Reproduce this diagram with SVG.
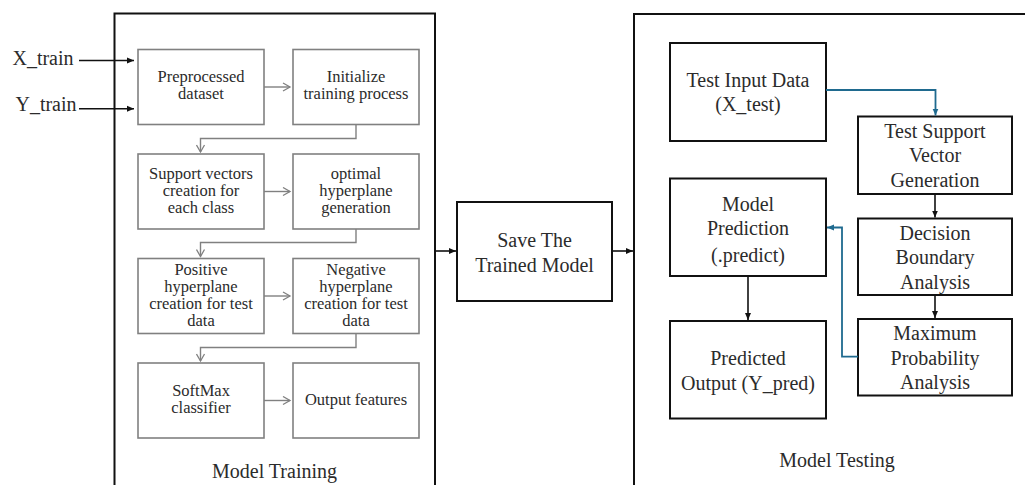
<svg xmlns="http://www.w3.org/2000/svg" width="1025" height="485" viewBox="0 0 1025 485">
<style>
text{font-family:"Liberation Serif","Times New Roman",serif;fill:#2b2b2b;text-anchor:middle}
.tr{font-size:16.5px}
.te{font-size:20px}
.lbl{font-size:20px}
.frame{fill:none;stroke:#111;stroke-width:2}
.ibox{fill:#fff;stroke:#808080;stroke-width:1.6}
.tbox{fill:#fff;stroke:#111;stroke-width:2}
.gc{fill:none;stroke:#808080;stroke-width:1.4}
.bc{fill:none;stroke:#111;stroke-width:1.6}
.blue{fill:none;stroke:#1f6a8f;stroke-width:1.8}
</style>
<defs>
<marker id="ga" markerWidth="10" markerHeight="10" refX="8" refY="5" orient="auto" markerUnits="userSpaceOnUse">
<path d="M1,1 L8,5 L1,9" fill="none" stroke="#808080" stroke-width="1.3"/>
</marker>
<marker id="ba" markerWidth="8" markerHeight="8" refX="7" refY="4" orient="auto" markerUnits="userSpaceOnUse">
<path d="M0,1 L7,4 L0,7 Z" fill="#111"/>
</marker>
<marker id="bla" markerWidth="8" markerHeight="8" refX="7" refY="4" orient="auto" markerUnits="userSpaceOnUse">
<path d="M0,1 L7,4 L0,7 Z" fill="#1f6a8f"/>
</marker>
</defs>
<rect width="1025" height="485" fill="#fff"/>

<g id="training-frame">
<path class="frame" d="M114.5,490 V13.5 H435 V490"/>
<text class="lbl" x="274.5" y="478">Model Training</text>
</g>
<g id="testing-frame">
<path class="frame" d="M634,490 V14 H1040 V490"/>
<text class="lbl" x="837" y="467">Model Testing</text>
</g>

<g id="inputs">
<text class="lbl" x="43" y="65">X_train</text>
<text class="lbl" x="46" y="111">Y_train</text>
</g>

<g id="n-preprocessed"><rect class="ibox" x="138" y="49.5" width="126" height="75"/><text class="tr"><tspan x="201" y="82">Preprocessed</tspan><tspan x="201" y="99">dataset</tspan></text></g>
<g id="n-initialize"><rect class="ibox" x="293" y="49.5" width="126" height="75"/><text class="tr"><tspan x="356" y="82">Initialize</tspan><tspan x="356" y="99">training process</tspan></text></g>
<g id="n-support"><rect class="ibox" x="138" y="154" width="126" height="75"/><text class="tr"><tspan x="201" y="178.5">Support vectors</tspan><tspan x="201" y="195.7">creation for</tspan><tspan x="201" y="212.9">each class</tspan></text></g>
<g id="n-optimal"><rect class="ibox" x="293" y="154" width="126" height="75"/><text class="tr"><tspan x="356" y="178.5">optimal</tspan><tspan x="356" y="195.7">hyperplane</tspan><tspan x="356" y="212.9">generation</tspan></text></g>
<g id="n-positive"><rect class="ibox" x="138" y="258.5" width="126" height="75"/><text class="tr"><tspan x="201" y="274.5">Positive</tspan><tspan x="201" y="291.5">hyperplane</tspan><tspan x="201" y="308.5">creation for test</tspan><tspan x="201" y="325.5">data</tspan></text></g>
<g id="n-negative"><rect class="ibox" x="293" y="258.5" width="126" height="75"/><text class="tr"><tspan x="356" y="274.5">Negative</tspan><tspan x="356" y="291.5">hyperplane</tspan><tspan x="356" y="308.5">creation for test</tspan><tspan x="356" y="325.5">data</tspan></text></g>
<g id="n-softmax"><rect class="ibox" x="138" y="363" width="126" height="75"/><text class="tr"><tspan x="201" y="396">SoftMax</tspan><tspan x="201" y="413">classifier</tspan></text></g>
<g id="n-output"><rect class="ibox" x="293" y="363" width="126" height="75"/><text class="tr" x="356" y="405">Output features</text></g>

<g id="n-save"><rect class="tbox" x="457" y="202" width="155" height="99"/><text class="te"><tspan x="534.5" y="247">Save The</tspan><tspan x="534.5" y="271.5">Trained Model</tspan></text></g>

<g id="n-testinput"><rect class="tbox" x="670" y="43" width="156" height="98"/><text class="te"><tspan x="748" y="87">Test Input Data</tspan><tspan x="748" y="111">(X_test)</tspan></text></g>
<g id="n-testsupport"><rect class="tbox" x="858" y="116.5" width="154" height="77.5"/><text class="te"><tspan x="935" y="137.5">Test Support</tspan><tspan x="935" y="162">Vector</tspan><tspan x="935" y="186.5">Generation</tspan></text></g>
<g id="n-prediction"><rect class="tbox" x="670" y="178.5" width="156" height="97.5"/><text class="te"><tspan x="748" y="210.5">Model</tspan><tspan x="748" y="235">Prediction</tspan><tspan x="748" y="261.5">(.predict)</tspan></text></g>
<g id="n-decision"><rect class="tbox" x="858" y="218.5" width="154" height="76.5"/><text class="te"><tspan x="935" y="239.5">Decision</tspan><tspan x="935" y="264">Boundary</tspan><tspan x="935" y="288.5">Analysis</tspan></text></g>
<g id="n-maximum"><rect class="tbox" x="858" y="319" width="154" height="76.5"/><text class="te"><tspan x="935" y="340">Maximum</tspan><tspan x="935" y="364.5">Probability</tspan><tspan x="935" y="389">Analysis</tspan></text></g>
<g id="n-predicted"><rect class="tbox" x="670" y="321" width="156" height="97.5"/><text class="te"><tspan x="748" y="365">Predicted</tspan><tspan x="748" y="390">Output (Y_pred)</tspan></text></g>

<g id="connectors">
<path class="bc" d="M79,60.5 H134" marker-end="url(#ba)"/>
<path class="bc" d="M79,108.7 H134" marker-end="url(#ba)"/>
<path class="gc" d="M264,87 H290" marker-end="url(#ga)"/>
<path class="gc" d="M356,124.5 V138.5 H200.5 V152" marker-end="url(#ga)"/>
<path class="gc" d="M264,191.5 H290" marker-end="url(#ga)"/>
<path class="gc" d="M356,229 V242.5 H200.5 V256.5" marker-end="url(#ga)"/>
<path class="gc" d="M264,296 H290" marker-end="url(#ga)"/>
<path class="gc" d="M356,333.5 V347.5 H200.5 V361" marker-end="url(#ga)"/>
<path class="gc" d="M264,400.5 H290" marker-end="url(#ga)"/>
<path class="bc" d="M435,251 H456" marker-end="url(#ba)"/>
<path class="bc" d="M612,251 H633" marker-end="url(#ba)"/>
<path class="blue" d="M826,90 H935.5 V115.5" marker-end="url(#bla)"/>
<path class="bc" d="M935,194 V217.5" marker-end="url(#ba)"/>
<path class="bc" d="M935,295 V318" marker-end="url(#ba)"/>
<path class="blue" d="M858,356.7 H842 V227.5 H827" marker-end="url(#bla)"/>
<path class="bc" d="M748,276 V320" marker-end="url(#ba)"/>
</g>
</svg>
